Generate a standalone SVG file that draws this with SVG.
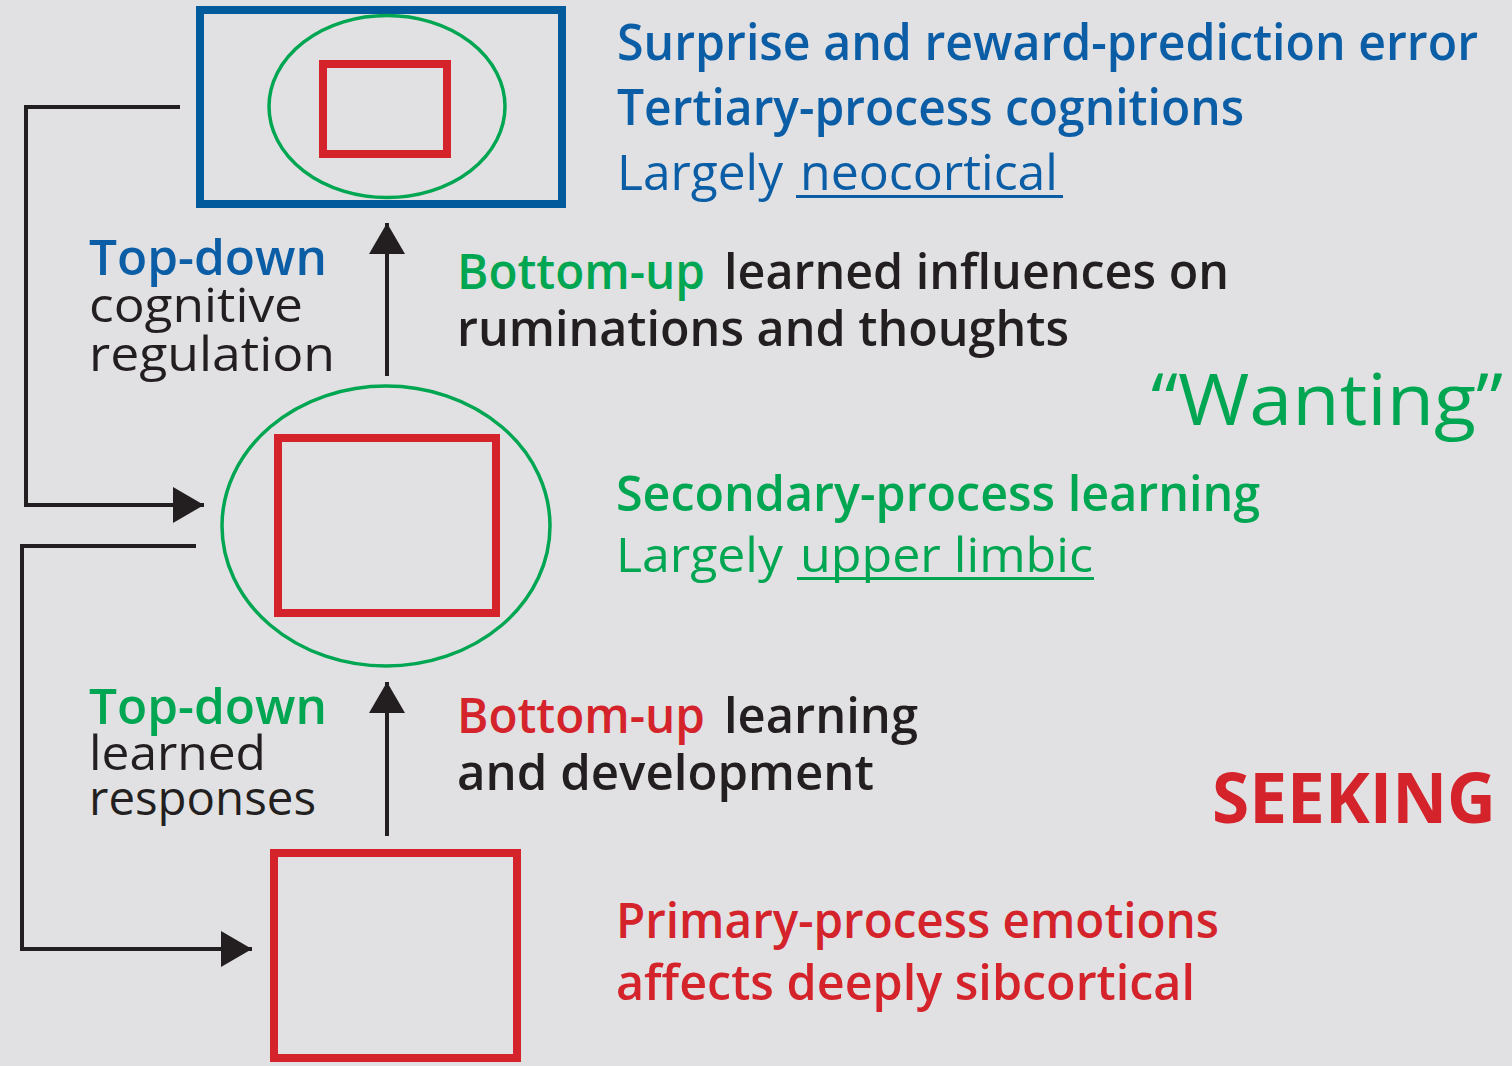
<svg xmlns="http://www.w3.org/2000/svg" width="1512" height="1066" viewBox="0 0 1512 1066">
<defs>
<style>
.t{font-family:"Open Sans","Noto Sans","Liberation Sans",sans-serif;}
.sb{font-weight:600;font-size:48px;}
.rg{font-weight:400;font-size:48px;}
.md{font-weight:500;font-size:48px;}
.big{font-size:50px;}
.blue{fill:#0b5ea6;}
.green{fill:#00a651;}
.red{fill:#d4232b;}
.dark{fill:#231f20;}
.conn{fill:none;stroke:#231f20;stroke-width:4;}
</style>
<marker id="ah" viewBox="0 0 31 36" refX="31" refY="18" markerWidth="31" markerHeight="36" markerUnits="userSpaceOnUse" orient="auto">
<path d="M0,0 L31,18 L0,36 Z" fill="#231f20"/>
</marker>
</defs>
<rect x="0" y="0" width="1512" height="1066" fill="#e1e1e3"/>

<g id="connectors">
<path class="conn" d="M180,107 H26 V505 H204" marker-end="url(#ah)"/>
<path class="conn" d="M196,546 H22 V949 H252" marker-end="url(#ah)"/>
<path class="conn" d="M387,376 V223" marker-end="url(#ah)"/>
<path class="conn" d="M387,836 V682" marker-end="url(#ah)"/>
</g>

<g id="node-tertiary">
<rect x="200" y="10" width="362" height="194" fill="none" stroke="#005a9c" stroke-width="8"/>
<ellipse cx="387" cy="106.5" rx="118" ry="91" fill="none" stroke="#00a651" stroke-width="3.5"/>
<rect x="323" y="64" width="124" height="90" fill="none" stroke="#d4232b" stroke-width="8"/>
</g>

<g id="node-secondary">
<ellipse cx="386" cy="526" rx="164" ry="140" fill="none" stroke="#00a651" stroke-width="3.5"/>
<rect x="278" y="438" width="218" height="175" fill="none" stroke="#d4232b" stroke-width="8"/>
</g>

<g id="node-primary">
<rect x="274" y="853" width="243" height="205" fill="none" stroke="#d4232b" stroke-width="8"/>
</g>

<g id="label-tertiary">
<text class="t sb big blue" x="617" y="60" textLength="861" lengthAdjust="spacingAndGlyphs">Surprise and reward-prediction error</text>
<text class="t sb big blue" x="617" y="125" textLength="627" lengthAdjust="spacingAndGlyphs">Tertiary-process cognitions</text>
<text class="t rg big blue" x="617" y="190" textLength="166" lengthAdjust="spacingAndGlyphs">Largely</text>
<text class="t rg big blue" x="800" y="190" textLength="258" lengthAdjust="spacingAndGlyphs">neocortical</text>
<rect x="796" y="195" width="267" height="3" fill="#0b5ea6"/>
</g>

<g id="label-topdown-cognitive">
<text class="t sb blue" x="89" y="275" textLength="238" lengthAdjust="spacingAndGlyphs">Top-down</text>
<text class="t md dark" x="89" y="322" textLength="214" lengthAdjust="spacingAndGlyphs">cognitive</text>
<text class="t md dark" x="89" y="371" textLength="246" lengthAdjust="spacingAndGlyphs">regulation</text>
</g>

<g id="label-bottomup-learned">
<text class="t sb green" x="457" y="289" textLength="248" lengthAdjust="spacingAndGlyphs">Bottom-up</text>
<text class="t sb dark" x="724" y="289" textLength="505" lengthAdjust="spacingAndGlyphs">learned influences on</text>
<text class="t sb dark" x="457" y="346" textLength="612" lengthAdjust="spacingAndGlyphs">ruminations and thoughts</text>
</g>

<g id="label-wanting">
<text class="t green" x="1151" y="425" font-size="72" font-weight="400" textLength="352" lengthAdjust="spacingAndGlyphs">“Wanting”</text>
</g>

<g id="label-secondary">
<text class="t sb green" x="616" y="511" textLength="644" lengthAdjust="spacingAndGlyphs">Secondary-process learning</text>
<text class="t rg green" x="616" y="572" textLength="167" lengthAdjust="spacingAndGlyphs">Largely</text>
<text class="t rg green" x="800" y="572" textLength="293" lengthAdjust="spacingAndGlyphs">upper limbic</text>
<rect x="797" y="577" width="297" height="3" fill="#00a651"/>
</g>

<g id="label-topdown-learned">
<text class="t sb green" x="89" y="724" textLength="238" lengthAdjust="spacingAndGlyphs">Top-down</text>
<text class="t md dark" x="89" y="770" textLength="177" lengthAdjust="spacingAndGlyphs">learned</text>
<text class="t md dark" x="89" y="815" textLength="227" lengthAdjust="spacingAndGlyphs">responses</text>
</g>

<g id="label-bottomup-development">
<text class="t sb red" x="457" y="733" textLength="248" lengthAdjust="spacingAndGlyphs">Bottom-up</text>
<text class="t sb dark" x="724" y="733" textLength="194" lengthAdjust="spacingAndGlyphs">learning</text>
<text class="t sb dark" x="457" y="790" textLength="417" lengthAdjust="spacingAndGlyphs">and development</text>
</g>

<g id="label-seeking">
<text class="t red" x="1212" y="823" font-size="70" font-weight="700" textLength="284" lengthAdjust="spacingAndGlyphs">SEEKING</text>
</g>

<g id="label-primary">
<text class="t sb red" x="616" y="938" textLength="603" lengthAdjust="spacingAndGlyphs">Primary-process emotions</text>
<text class="t sb red" x="616" y="1000" textLength="579" lengthAdjust="spacingAndGlyphs">affects deeply sibcortical</text>
</g>
</svg>
